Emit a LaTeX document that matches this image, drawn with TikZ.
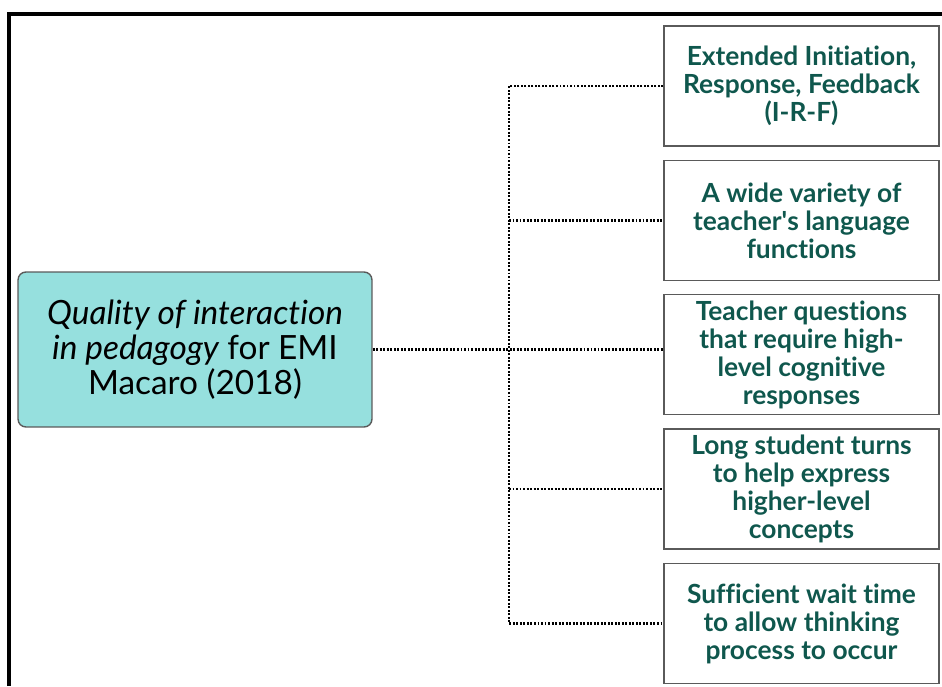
\documentclass[tikz,border=0pt]{standalone}
\usepackage{fontspec}
\setmainfont{Lato}[Ligatures={NoCommon}]
\usetikzlibrary{positioning}
\definecolor{tealfill}{HTML}{96E0DE}
\definecolor{tealink}{HTML}{0F574D}
\definecolor{boxline}{HTML}{5A5A5A}
\tikzset{
  mainbox/.style={draw=boxline,fill=tealfill,rounded corners=4.5pt,line width=0.8pt,
                  align=center,minimum width=7.08cm,minimum height=3.1cm,
                  font=\fontsize{19}{19.8}\selectfont},
  itembox/.style={draw=boxline,line width=0.8pt,align=center,
                  minimum width=5.5cm,minimum height=2.4cm,inner sep=0pt,
                  text=tealink,font=\bfseries\fontsize{15}{15.9}\selectfont},
  link/.style={line width=1.3pt,dash pattern=on 1.1pt off 0.9pt}
}
\begin{document}
\begin{tikzpicture}[x=0.02cm,y=-0.02cm]
  \useasboundingbox (0,0) rectangle (942,686);
  % frame
  \draw[line width=1.8pt] (9,686) -- (9,14) -- (942,14);

  % central concept
  \node[mainbox] (main) at (195,349.5)
    {\itshape Quality of interaction\\
     {\itshape in pedagogy} for EMI\\
     Macaro (2018)};

  % features
  \node[itembox] (b1) at (801.5,86)
    {Extended Initiation,\\Response, Feedback\\(I-R-F)};
  \node[itembox,below=0.26cm of b1] (b2)
    {A wide variety of\\teacher\textquotesingle s language\\functions};
  \node[itembox,below=0.26cm of b2] (b3)
    {Teacher questions\\that require high-\\level cognitive\\responses};
  \node[itembox,below=0.26cm of b3] (b4)
    {Long student turns\\to help express\\higher-level\\concepts};
  \node[itembox,below=0.26cm of b4] (b5)
    {Sufficient wait time\\to allow thinking\\process to occur};

  \coordinate (spine) at (509,349.5);

  \draw[link] (main.east) -- (b3.west |- main.east);
  \draw[link] (b1.west) -- (b1.west -| spine) -- (b5.west -| spine) -- (b5.west);
  \draw[link] (b2.west -| spine) -- (b2.west);
  \draw[link] (b4.west -| spine) -- (b4.west);
\end{tikzpicture}
\end{document}
